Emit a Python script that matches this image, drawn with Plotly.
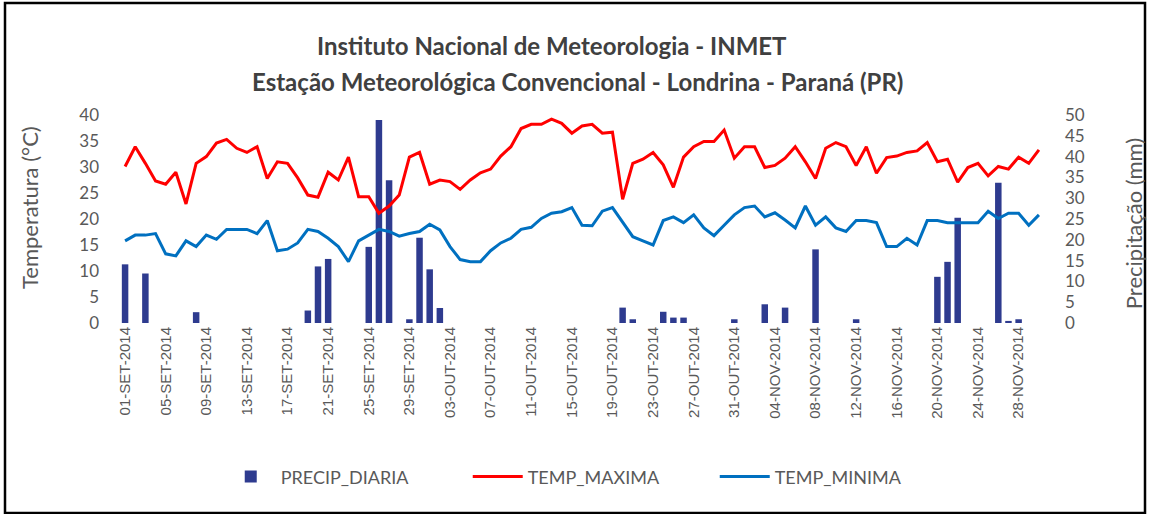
import plotly.graph_objects as go

# dias de 01-SET-2014 a 30-NOV-2014
meses = [("SET", 30), ("OUT", 31), ("NOV", 30)]
datas = [f"{d:02d}-{m}-2014" for m, n in meses for d in range(1, n + 1)]
tick_datas = datas[::4]

temp_maxima = [
    30.1, 33.9, 30.7, 27.3, 26.7, 29.0, 22.9, 30.7, 32.0, 34.6,
    35.3, 33.6, 32.8, 33.9, 27.8, 31.0, 30.7, 27.9, 24.6, 24.2,
    29.0, 27.5, 31.9, 24.3, 24.3, 21.1, 22.5, 24.6, 31.9, 32.8,
    26.7, 27.5, 27.2, 25.7, 27.5, 28.9, 29.6, 32.1, 33.9, 37.4,
    38.2, 38.2, 39.2, 38.4, 36.5, 37.9, 38.2, 36.5, 36.7, 23.8,
    30.7, 31.5, 32.8, 30.4, 26.1, 31.9, 33.9, 34.9, 34.9, 37.1,
    31.7, 33.9, 33.9, 29.9, 30.3, 31.7, 33.9, 31.0, 27.8, 33.6,
    34.7, 33.9, 30.3, 33.9, 28.8, 31.8, 32.1, 32.8, 33.1, 34.7,
    31.0, 31.5, 27.1, 29.9, 30.7, 28.3, 30.1, 29.6, 31.9, 30.7,
    33.3,
]

temp_minima = [
    15.8, 16.9, 16.9, 17.2, 13.3, 12.9, 15.8, 14.7, 16.9, 16.1,
    18.0, 18.0, 18.0, 17.2, 19.7, 13.9, 14.2, 15.4, 18.0, 17.6,
    16.3, 14.7, 11.8, 15.8, 16.9, 18.0, 17.6, 16.7, 17.2, 17.6,
    19.0, 17.9, 14.7, 12.2, 11.8, 11.8, 13.9, 15.4, 16.3, 18.0,
    18.4, 20.1, 21.1, 21.4, 22.2, 18.8, 18.7, 21.5, 22.2, 19.5,
    16.6, 15.8, 15.0, 19.7, 20.4, 19.3, 20.8, 18.3, 16.8, 18.8,
    20.8, 22.2, 22.5, 20.4, 21.2, 19.8, 18.3, 22.5, 18.8, 20.4,
    18.3, 17.6, 19.7, 19.7, 19.3, 14.7, 14.7, 16.3, 15.0, 19.7,
    19.7, 19.3, 19.3, 19.3, 19.3, 21.5, 20.1, 21.1, 21.1, 18.8,
    20.8,
]

precip_diaria = [
    14.1, 0, 11.9, 0, 0, 0, 0, 2.6, 0, 0,
    0, 0, 0, 0, 0, 0, 0, 0, 3.0, 13.6,
    15.4, 0, 0, 0, 18.3, 48.8, 34.3, 0, 0.9, 20.5,
    12.9, 3.6, 0, 0, 0, 0, 0, 0, 0, 0,
    0, 0, 0, 0, 0, 0, 0, 0, 0, 3.7,
    0.9, 0, 0, 2.7, 1.3, 1.3, 0, 0, 0, 0,
    0.9, 0, 0, 4.5, 0, 3.7, 0, 0, 17.7, 0,
    0, 0, 0.9, 0, 0, 0, 0, 0, 0, 0,
    11.1, 14.7, 25.3, 0, 0, 0, 33.7, 0.5, 0.9, 0,
    0,
]

cinza = "#595959"
fonte = "Lato"

fig = go.Figure()
fig.add_trace(go.Bar(
    x=datas, y=precip_diaria, name="PRECIP_DIARIA",
    marker=dict(color="#2E3B8F", line=dict(width=0)),
    width=0.64, yaxis="y",
))
fig.add_trace(go.Scatter(
    x=datas, y=temp_maxima, name="TEMP_MAXIMA", mode="lines",
    line=dict(color="#FF0000", width=3), yaxis="y2",
))
fig.add_trace(go.Scatter(
    x=datas, y=temp_minima, name="TEMP_MINIMA", mode="lines",
    line=dict(color="#0070C0", width=3), yaxis="y2",
))

fig.update_layout(
    width=1149, height=514,
    margin=dict(l=120, r=105, t=115, b=191, autoexpand=False),
    paper_bgcolor="white", plot_bgcolor="white",
    font=dict(family=fonte, color=cinza),
    xaxis=dict(
        type="category", range=[-0.5, 90.5],
        tickmode="array", tickvals=tick_datas, ticktext=tick_datas,
        tickangle=-90, showgrid=False, showline=False, ticks="",
        tickfont=dict(family="Liberation Sans", size=15, color=cinza),
    ),
    yaxis=dict(
        side="right", range=[0, 50], dtick=5, showgrid=False,
        zeroline=False, showline=False, ticklabelstandoff=20,
        tickfont=dict(size=17, color=cinza),
    ),
    yaxis2=dict(
        overlaying="y", side="left", range=[0, 40], dtick=5,
        showgrid=False, zeroline=False, showline=False,
        ticklabelstandoff=20, tickfont=dict(size=17, color=cinza),
    ),
    legend=dict(
        orientation="h", x=0.51, xanchor="center", y=-0.74, yanchor="middle",
        font=dict(size=18, color=cinza), entrywidth=182, itemwidth=50,
    ),
    showlegend=True,
)

anotacoes = [
    dict(text="<b>Instituto Nacional de Meteorologia - INMET</b>",
         x=0.4675, y=1.3365, size=24, angle=0, color="#404040"),
    dict(text="<b>Estação Meteorológica Convencional - Londrina - Paraná (PR)</b>",
         x=0.4946, y=1.1587, size=24, angle=0, color="#404040"),
    dict(text="Temperatura (°C)", x=-0.0974, y=0.553, size=22, angle=-90, color=cinza),
    dict(text="Precipitação (mm)", x=1.0963, y=0.48, size=22, angle=-90, color=cinza),
]
for a in anotacoes:
    fig.add_annotation(
        text=a["text"], x=a["x"], y=a["y"], xref="paper", yref="paper",
        showarrow=False, textangle=a["angle"], xanchor="center", yanchor="middle",
        font=dict(family=fonte, size=a["size"], color=a["color"]),
    )

# moldura do gráfico
fig.add_shape(
    type="rect", xref="paper", yref="paper",
    x0=(5 - 120) / 924, x1=(1145 - 120) / 924,
    y0=(323 - 513) / 208, y1=(323 - 3) / 208,
    line=dict(color="black", width=2.5), layer="above",
)

fig.write_html(
    "out.html",
    config={"displayModeBar": False},
    post_script="document.body.style.margin='0px';",
)
